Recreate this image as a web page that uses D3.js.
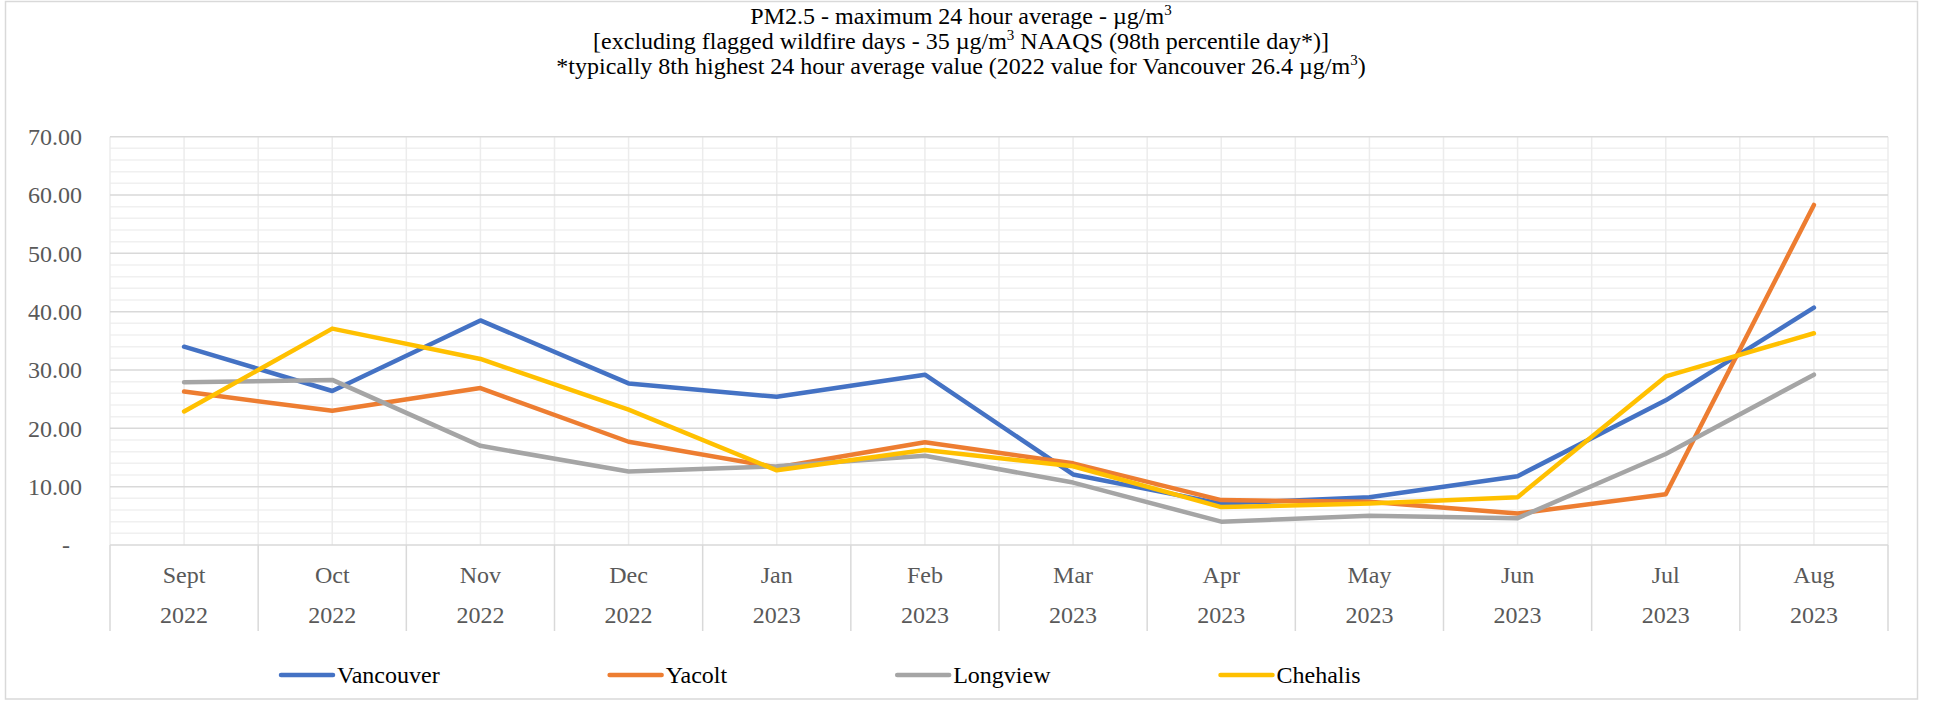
<!DOCTYPE html>
<html>
<head>
<meta charset="utf-8">
<script src="https://cdn.jsdelivr.net/npm/d3@7"></script>
<style>
  html, body { margin: 0; padding: 0; background: #fff; }
  svg { display: block; }
  text { font-family: "Liberation Serif", "Times New Roman", serif; }
</style>
</head>
<body>
<svg id="chart" width="1933" height="702"></svg>
<script>
// ---------- data ----------
const months = ["Sept","Oct","Nov","Dec","Jan","Feb","Mar","Apr","May","Jun","Jul","Aug"];
const years  = ["2022","2022","2022","2022","2023","2023","2023","2023","2023","2023","2023","2023"];
const seriesNames = ["Vancouver","Yacolt","Longview","Chehalis"];
const vancouver = [34.0, 26.4, 38.5, 27.7, 25.4, 29.2, 12.1, 7.1, 8.2, 11.8, 24.8, 40.7];
const yacolt    = [26.3, 23.0, 26.9, 17.7, 13.3, 17.6, 14.0, 7.7, 7.4, 5.4, 8.7, 58.3];
const longview  = [27.9, 28.3, 17.0, 12.6, 13.5, 15.3, 10.7, 4.0, 5.0, 4.6, 15.6, 29.2];
const chehalis  = [22.9, 37.1, 31.9, 23.2, 12.8, 16.3, 13.5, 6.5, 7.1, 8.2, 28.9, 36.3];
const yTicks = [0, 10, 20, 30, 40, 50, 60, 70];
const titleLines = [
  ["PM2.5 - maximum 24 hour average - µg/m", "3", ""],
  ["[excluding flagged wildfire days - 35 µg/m", "3", " NAAQS (98th percentile day*)]"],
  ["*typically 8th highest 24 hour average value (2022 value for Vancouver 26.4 µg/m", "3", ")"]
];

// ---------- layout ----------
const colors = ["#4472C4", "#ED7D31", "#A5A5A5", "#FFC000"];
const seriesValues = [vancouver, yacolt, longview, chehalis];
const W = 1933, H = 702;
const plot = { left: 110, right: 1888, top: 136.7, bottom: 545 };

const svg = d3.select("#chart");

// chart border
svg.append("rect")
  .attr("x", 5.5).attr("y", 1.5)
  .attr("width", 1917.5 - 5.5).attr("height", 699 - 1.5)
  .attr("fill", "#fff").attr("stroke", "#d9d9d9").attr("stroke-width", 1.5);

const x = d3.scaleBand().domain(d3.range(months.length)).range([plot.left, plot.right]).padding(0);
const y = d3.scaleLinear().domain([0, 70]).range([plot.bottom, plot.top]);
const cx = i => x(i) + x.bandwidth() / 2;

// minor horizontal gridlines (every 2)
const minor = d3.range(0, 70.001, 2).filter(v => v % 10 !== 0);
svg.append("g").selectAll("line").data(minor).join("line")
  .attr("x1", plot.left).attr("x2", plot.right)
  .attr("y1", d => y(d)).attr("y2", d => y(d))
  .attr("stroke", "#f0f0f0").attr("stroke-width", 1.5);

// vertical gridlines (category boundaries and centers)
const vLines = [];
months.forEach((m, i) => { vLines.push(x(i)); vLines.push(cx(i)); });
vLines.push(plot.right);
svg.append("g").selectAll("line").data(vLines).join("line")
  .attr("x1", d => d).attr("x2", d => d)
  .attr("y1", plot.top).attr("y2", plot.bottom)
  .attr("stroke", "#ececec").attr("stroke-width", 1.5);

// major horizontal gridlines
svg.append("g").selectAll("line").data(yTicks.filter(d => d > 0)).join("line")
  .attr("x1", plot.left).attr("x2", plot.right)
  .attr("y1", d => y(d)).attr("y2", d => y(d))
  .attr("stroke", "#d9d9d9").attr("stroke-width", 1.5);

// y axis labels
const yAxis = d3.axisLeft(y).tickValues(yTicks).tickSize(0).tickPadding(0)
  .tickFormat(d => d === 0 ? "-" : d.toFixed(2));
const yg = svg.append("g").attr("transform", `translate(${82},0)`).call(yAxis);
yg.select(".domain").remove();
yg.selectAll("text")
  .attr("font-family", "Liberation Serif, Times New Roman, serif")
  .attr("font-size", 24).attr("fill", "#595959")
  .attr("dy", "0.32em")
  .attr("x", d => d === 0 ? -12 : 0);

// x axis line
svg.append("line")
  .attr("x1", plot.left).attr("x2", plot.right)
  .attr("y1", plot.bottom).attr("y2", plot.bottom)
  .attr("stroke", "#d9d9d9").attr("stroke-width", 1.5);

// category separators (multi-level axis)
const seps = months.map((m, i) => x(i)).concat([plot.right]);
svg.append("g").selectAll("line").data(seps).join("line")
  .attr("x1", d => d).attr("x2", d => d)
  .attr("y1", plot.bottom).attr("y2", 631)
  .attr("stroke", "#d9d9d9").attr("stroke-width", 1.5);

// x axis labels via d3 axis
const xAxisM = d3.axisBottom(x).tickSize(0).tickPadding(0).tickFormat(i => months[i]);
const xm = svg.append("g").attr("transform", `translate(0,${583})`).call(xAxisM);
xm.select(".domain").remove();
xm.selectAll("text").attr("dy", 0).attr("y", 0)
  .attr("font-family", "Liberation Serif, Times New Roman, serif")
  .attr("font-size", 24).attr("fill", "#595959");

const xAxisY = d3.axisBottom(x).tickSize(0).tickPadding(0).tickFormat(i => years[i]);
const xy = svg.append("g").attr("transform", `translate(0,${623})`).call(xAxisY);
xy.select(".domain").remove();
xy.selectAll("text").attr("dy", 0).attr("y", 0)
  .attr("font-family", "Liberation Serif, Times New Roman, serif")
  .attr("font-size", 24).attr("fill", "#595959");

// series lines
const line = d3.line().x((d, i) => cx(i)).y(d => y(d));
seriesValues.forEach((vals, k) => {
  svg.append("path")
    .datum(vals)
    .attr("d", line)
    .attr("fill", "none")
    .attr("stroke", colors[k])
    .attr("stroke-width", 4.5)
    .attr("stroke-linejoin", "round")
    .attr("stroke-linecap", "round");
});

// title
const tg = svg.append("g");
const titleBaselines = [24, 49, 74];
titleLines.forEach((parts, i) => {
  const t = tg.append("text")
    .attr("x", 961).attr("y", titleBaselines[i])
    .attr("text-anchor", "middle")
    .attr("font-size", 24).attr("fill", "#000");
  t.append("tspan").text(parts[0]);
  t.append("tspan").attr("font-size", 15).attr("dy", -9).text(parts[1]);
  if (parts[2]) t.append("tspan").attr("dy", 9).text(parts[2]);
});

// legend
const lg = svg.append("g");
let lx = 279;
const ly = 675;
seriesNames.forEach((name, k) => {
  lg.append("line")
    .attr("x1", lx + 2).attr("x2", lx + 54)
    .attr("y1", ly).attr("y2", ly)
    .attr("stroke", colors[k]).attr("stroke-width", 4.5)
    .attr("stroke-linecap", "round");
  const t = lg.append("text")
    .attr("x", lx + 58).attr("y", ly + 8)
    .attr("font-size", 24).attr("fill", "#000")
    .text(name);
  const w = t.node().getComputedTextLength();
  lx = lx + 58 + w + 168;
});
</script>
</body>
</html>
